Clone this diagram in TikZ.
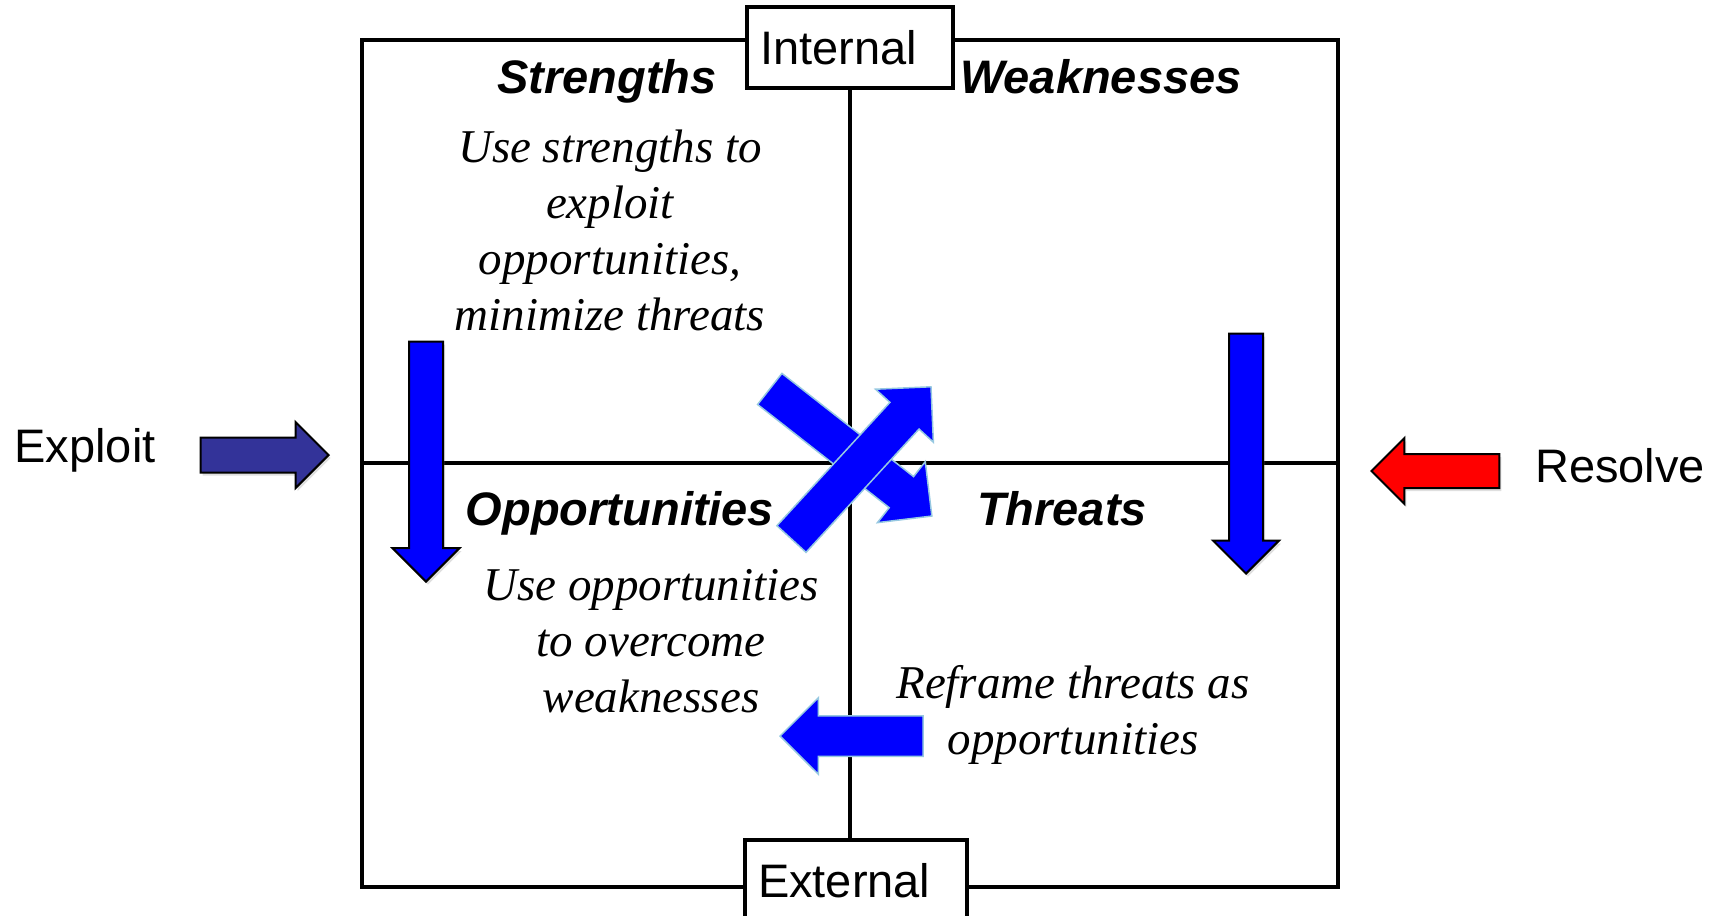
\documentclass[tikz,border=0pt]{standalone}
\usepackage{fontspec}
\setmainfont{Liberation Serif}
\setsansfont{Liberation Sans}
\usepackage{tikz}
\usetikzlibrary{shapes.arrows}
\usetikzlibrary{shadows}

\definecolor{exploitblue}{RGB}{51,51,153}
\definecolor{arrowblue}{RGB}{0,0,255}
\definecolor{glow}{RGB}{150,200,225}

\begin{document}
\begin{tikzpicture}[x=1pt,y=-1pt,
	side/.style={font=\sffamily\fontsize{47}{56}\selectfont,inner sep=0,anchor=base},
	title/.style={font=\sffamily\bfseries\itshape\fontsize{47}{56}\selectfont,inner sep=0,anchor=base},
	note/.style={font=\itshape\fontsize{47}{56}\selectfont,align=center,inner sep=0},
	tag/.style={draw,line width=4pt,fill=white,minimum height=81pt,inner xsep=13pt,inner ysep=0,align=left,font=\sffamily\fontsize{47}{56}\selectfont},
	fat/.style={single arrow,inner xsep=0,anchor=tip,line width=2pt,draw=black,drop shadow={shadow xshift=2pt,shadow yshift=-3pt,opacity=.25}},
	glowing/.style={single arrow,inner xsep=0,anchor=tip,fill=arrowblue,draw=glow,line width=1.5pt}
	]
	\useasboundingbox (0,0) rectangle (1725,916);
	
	% quadrants
	\draw[line width=3.8pt] (362,40) rectangle (1338,887);
	\draw[line width=3.8pt] (850,40) -- (850,887);
	\draw[line width=3.8pt] (362,463) -- (1338,463);
	
	\node[tag,text width=180pt] (int) at (850,47.5) {Internal};
	\node[tag,text width=196pt] (ext) at (856,880.5) {External};
	
	\node[title] (str) at (607,93) {Strengths};
	\node[title] (wea) at (1101,93) {Weaknesses};
	\node[title] (opp) at (620,525) {Opportunities};
	\node[title] (thr) at (1062,525) {Threats};
	
	\node[note] (strnote) at (610,230) {Use strengths to\\exploit\\opportunities,\\minimize threats};
	\node[note] (oppnote) at (651,641.5) {Use opportunities\\to overcome\\weaknesses};
	\node[note] (thrnote) at (1073,715) {Reframe threats as\\opportunities};
	
	\node[side] (exl) at (85,462) {Exploit};
	\node[side] (rsl) at (1620,482) {Resolve};
	
	% block arrows
	\node[fat,fill=exploitblue,minimum height=128pt,inner ysep=16.5pt,single arrow head extend=15.5pt] (exa) at (330,455) {};
	\node[fat,fill=red,rotate=180,minimum height=128pt,inner ysep=16pt,single arrow head extend=16pt] (rsa) at (1370,471) {};
	\node[fat,fill=arrowblue,rotate=-90,minimum height=240pt,inner ysep=16pt,single arrow head extend=16.5pt] (sda) at (426,583) {};
	\node[fat,fill=arrowblue,rotate=-90,minimum height=240pt,inner ysep=16pt,single arrow head extend=16pt] (wda) at (1246,575) {};
	\node[glowing,rotate=-38.1,minimum height=206pt,inner ysep=19pt,single arrow head extend=19pt] (dga) at (932.7,516.7) {};
	\node[glowing,rotate=47.5,minimum height=206.5pt,inner ysep=19pt,single arrow head extend=19.5pt] (uga) at (931.7,386) {};
	\node[glowing,rotate=180,minimum height=143pt,inner ysep=19.5pt,single arrow head extend=18pt] (rfa) at (779,736) {};
\end{tikzpicture}
\end{document}
